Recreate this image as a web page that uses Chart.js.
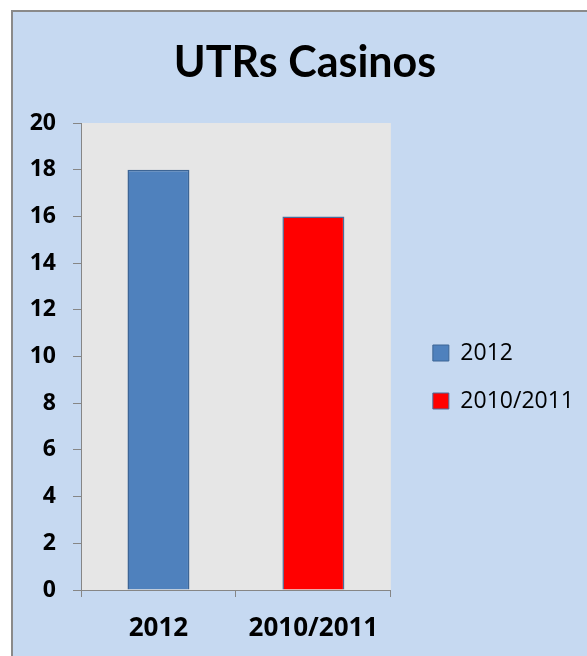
<!DOCTYPE html>
<html>
<head>
<meta charset="utf-8">
<script src="https://cdn.jsdelivr.net/npm/chart.js@4/dist/chart.umd.min.js"></script>
<style>
  html, body { margin: 0; padding: 0; background: #fff; overflow: hidden; }
  #page { position: relative; width: 587px; height: 656px; overflow: hidden; }
  #box { position: absolute; left: 11px; top: 10px; width: 700px; height: 700px;
         border: 2px solid #8a8a8a; background: #c6d9f1; }
  #wrap { position: absolute; left: 0; top: 0; width: 600px; height: 656px; }
</style>
</head>
<body>
<div id="page">
  <div id="box"></div>
  <div id="wrap"><canvas id="utrChart"></canvas></div>
</div>
<script>
// data
var categories = ['2012', '2010/2011'];
var utrValues = [18, 16];
var barColors = ['#4f81bd', '#ff0000'];
var barBorders = ['#3d6595', '#4a6d9a'];
var yMin = 0;
var yMax = 20;
var yStep = 2;

var plotBg = {
    id: 'plotBg',
    beforeDraw: function (chart) {
        var a = chart.chartArea;
        var ctx = chart.ctx;
        ctx.save();
        ctx.fillStyle = '#e6e6e6';
        ctx.fillRect(a.left, a.top, a.right - a.left, a.bottom - a.top);
        ctx.restore();
    }
};

var config = {
    type: 'bar',
    data: {
        labels: categories,
        datasets: [{
            label: 'UTRs Casinos',
            data: utrValues,
            backgroundColor: barColors,
            borderColor: barBorders,
            borderWidth: 1.5,
            barPercentage: 0.4,
            categoryPercentage: 1
        }]
    },
    options: {
        responsive: false,
        animation: false,
        layout: { padding: { left: 26, right: 16, top: 0, bottom: 0 } },
        plugins: {
            title: {
                display: true,
                text: 'UTRs Casinos',
                color: '#000',
                font: { family: 'Lato', size: 43, weight: 'bold' },
                padding: { top: 37, bottom: 34.4 }
            },
            legend: {
                position: 'right',
                fullSize: false,
                maxWidth: 250,
                // empty title only pushes the entries down a bit
                title: { display: true, text: ' ', font: { size: 10 }, padding: { top: 0, bottom: 29 } },
                labels: {
                    color: '#000',
                    font: { family: 'Open Sans', size: 23 },
                    boxWidth: 16,
                    boxHeight: 16,
                    padding: 25,
                    generateLabels: function (chart) {
                        return chart.data.labels.map(function (l, i) {
                            return {
                                text: l,
                                fillStyle: barColors[i],
                                strokeStyle: barBorders[i],
                                fontColor: '#000',
                                lineWidth: 1,
                                hidden: false,
                                index: i,
                                datasetIndex: 0
                            };
                        });
                    }
                }
            },
            tooltip: { enabled: false }
        },
        scales: {
            x: {
                grid: { drawOnChartArea: false, tickLength: 7, color: '#868686', offset: true },
                border: { color: '#868686', width: 1 },
                ticks: { color: '#000', font: { family: 'Open Sans', size: 26, weight: 'bold' }, padding: 16, maxRotation: 0 },
                afterFit: function (s) { s.height = 66; }
            },
            y: {
                min: yMin,
                max: yMax,
                grid: { drawOnChartArea: false, tickLength: 8, color: '#868686' },
                border: { color: '#868686', width: 1 },
                ticks: { stepSize: yStep, color: '#000', font: { family: 'Open Sans', size: 23, weight: 'bold' }, padding: 17 },
                afterFit: function (s) { s.width = 55; }
            },
            gap: {
                position: 'right',
                display: true,
                grid: { display: false },
                border: { display: false },
                ticks: { display: false },
                afterFit: function (s) { s.width = 17; }
            }
        }
    },
    plugins: [plotBg]
};

var canvas = document.getElementById('utrChart');
canvas.width = 600;
canvas.height = 656;
var utrChart = new Chart(canvas, config);
</script>
</body>
</html>
